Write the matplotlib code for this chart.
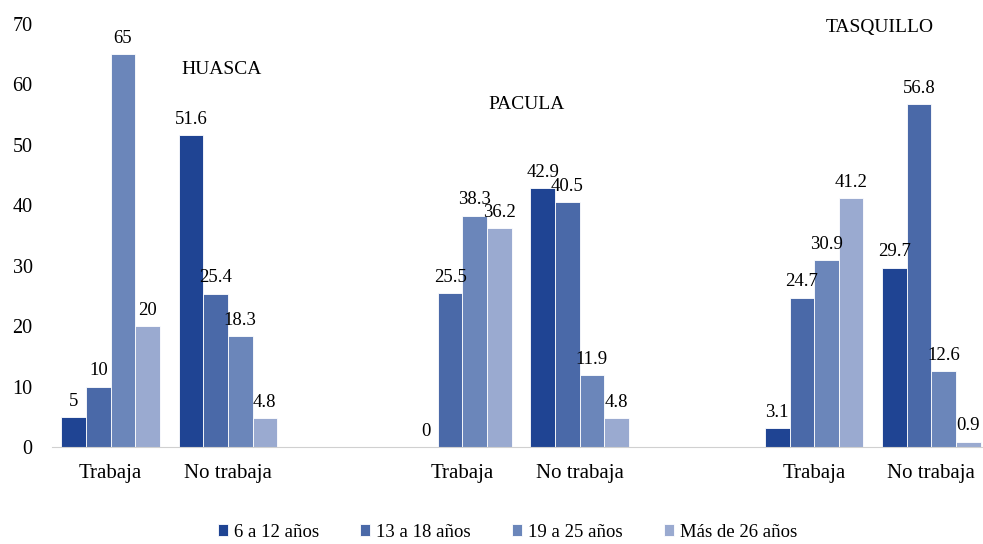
import matplotlib
matplotlib.use("Agg")
import matplotlib.pyplot as plt
import numpy as np

plt.rcParams['font.family'] = ['Liberation Serif', 'DejaVu Serif']

categories = ["Trabaja", "No trabaja", "", "Trabaja", "No trabaja", "", "Trabaja", "No trabaja"]
series_names = ["6 a 12 años", "13 a 18 años", "19 a 25 años", "Más de 26 años"]
# one list per age group, None for the empty spacer slots
s_6_12 = [5, 51.6, None, 0, 42.9, None, 3.1, 29.7]
s_13_18 = [10, 25.4, None, 25.5, 40.5, None, 24.7, 56.8]
s_19_25 = [65, 18.3, None, 38.3, 11.9, None, 30.9, 12.6]
s_26 = [20, 4.8, None, 36.2, 4.8, None, 41.2, 0.9]
place_names = ["HUASCA", "PACULA", "TASQUILLO"]
place_pos = [(0.95, 62.4), (3.55, 56.6), (6.56, 69.5)]

colors = ["#1f4493", "#4a69a8", "#6b86ba", "#9aaad0"]
series = [s_6_12, s_13_18, s_19_25, s_26]

fig = plt.figure(figsize=(9.83, 5.44), dpi=100)
ax = fig.add_axes([52 / 983, 1 - 447 / 544, (983 - 52) / 983, (447 - 24) / 544])

x = np.arange(len(categories))
w = 0.21
for i, (vals, c, name) in enumerate(zip(series, colors, series_names)):
    xs = [xi + (i - 1.5) * w for xi, v in zip(x, vals) if v is not None]
    ys = [v for v in vals if v is not None]
    ax.bar(xs, ys, width=w, color=c, label=name, edgecolor="white", linewidth=0.6)
    for bx, by in zip(xs, ys):
        ax.text(bx, by + 1.2, f"{by:g}", ha="center", va="bottom", fontsize=13.5)

for name, (px, py) in zip(place_names, place_pos):
    ax.text(px, py, name, ha="center", va="center", fontsize=14)

ax.set_ylim(0, 70)
ax.set_xlim(-0.5, 7.44)
ax.set_yticks(range(0, 71, 10))
ax.set_xticks(x)
ax.set_xticklabels(categories)
ax.tick_params(axis="both", length=0, labelsize=14.5)
ax.tick_params(axis="x", labelsize=15, pad=12)
ax.tick_params(axis="y", pad=14)
for s in ["top", "right", "left"]:
    ax.spines[s].set_visible(False)
ax.spines["bottom"].set_color("#d0d0d0")

fig.legend(loc="lower center", bbox_to_anchor=(0.516, -0.018), ncol=4, frameon=False,
           fontsize=13.5, handlelength=0.55, handleheight=0.55, handletextpad=0.3,
           columnspacing=2.2, borderpad=0.2)

fig.savefig("out.png", dpi=100)
